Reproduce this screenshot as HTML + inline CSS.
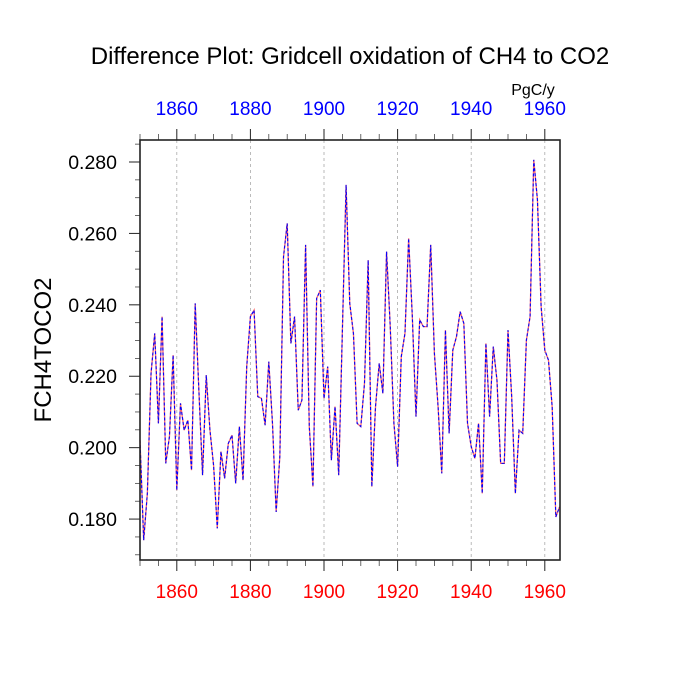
<!DOCTYPE html>
<html><head><meta charset="utf-8"><style>
html,body{margin:0;padding:0;background:#fff;}
svg{display:block;font-family:"Liberation Sans",Arial,sans-serif;}
</style></head><body>
<svg id="chart" width="700" height="700" viewBox="0 0 700 700">
<text x="350" y="64" text-anchor="middle" font-size="24">Difference Plot: Gridcell oxidation of CH4 to CO2</text>
<text x="533" y="95" text-anchor="middle" font-size="16">PgC/y</text>
<text x="0" y="0" transform="translate(51,350) rotate(-90)" text-anchor="middle" font-size="24">FCH4TOCO2</text>
<g id="grid"></g>
<g id="axes"></g>
<g id="series"></g>
<rect x="140" y="140" width="420" height="420" fill="none" stroke="#222" stroke-width="1.6"/>
</svg>
<script>
const startYear = 1850;
const values = [
0.2021,0.1741,0.1872,0.2208,0.2320,0.2068,0.2367,0.1956,0.2031,0.2259,
0.1881,0.2124,0.2049,0.2077,0.1937,0.2404,0.2160,0.1923,0.2203,0.2050,
0.1950,0.1774,0.1989,0.1914,0.2012,0.2035,0.1900,0.2059,0.1909,0.2227,
0.2367,0.2385,0.2143,0.2138,0.2063,0.2241,0.2068,0.1820,0.1975,0.2535,
0.2628,0.2292,0.2367,0.2105,0.2133,0.2568,0.2059,0.1891,0.2418,0.2441,
0.2138,0.2227,0.1965,0.2115,0.1923,0.2330,0.2736,0.2404,0.2320,0.2068,
0.2059,0.2180,0.2525,0.1891,0.2115,0.2236,0.2152,0.2549,0.2339,0.2068,
0.1947,0.2255,0.2320,0.2586,0.2367,0.2087,0.2358,0.2339,0.2339,0.2568,
0.2264,0.2115,0.1928,0.2329,0.2040,0.2273,0.2311,0.2381,0.2348,0.2068,
0.2003,0.1970,0.2068,0.1872,0.2292,0.2087,0.2283,0.2189,0.1956,0.1956,
0.2329,0.2143,0.1872,0.2049,0.2040,0.2301,0.2367,0.2806,0.2694,0.2395,
0.2273,0.2245,0.2115,0.1806,0.1834];
const yTicks = [0.18,0.20,0.22,0.24,0.26,0.28];
const yTickLabels = ["0.180","0.200","0.220","0.240","0.260","0.280"];
const xTicks = [1860,1880,1900,1920,1940,1960];
const xTickLabels = ["1860","1880","1900","1920","1940","1960"];

const NS="http://www.w3.org/2000/svg";
const X0=140,X1=560,Y0=140,Y1=560;
const xMin=1850,xMax=1964.13,yMin=0.16854,yMax=0.28616;
function xs(v){return X0+(v-xMin)/(xMax-xMin)*(X1-X0);}
function ys(v){return Y1-(v-yMin)/(yMax-yMin)*(Y1-Y0);}
function mk(tag,attrs,parent){const e=document.createElementNS(NS,tag);for(const k in attrs)e.setAttribute(k,attrs[k]);parent.appendChild(e);return e;}
const grid=document.getElementById('grid'),axes=document.getElementById('axes'),series=document.getElementById('series');

xTicks.forEach((t,i)=>{
  const x=xs(t);
  const g=mk('line',{x1:x,x2:x,y1:Y0,y2:Y1,stroke:'#aaa','stroke-width':0.8,'stroke-dasharray':'3,3'},grid);
  
  
  const tt=mk('line',{x1:x,x2:x,y1:Y0,y2:Y0-11,stroke:'#222','stroke-width':1},axes);
  
  
  const tb=mk('line',{x1:x,x2:x,y1:Y1,y2:Y1+11,stroke:'#222','stroke-width':1},axes);
  
  
  const lt=mk('text',{x:x,y:115,'text-anchor':'middle','font-size':19,fill:'#0000ff'},axes);
  lt.textContent=xTickLabels[i];
  
  
  const lb=mk('text',{x:x,y:598,'text-anchor':'middle','font-size':19,fill:'#ff0000'},axes);
  lb.textContent=xTickLabels[i];
  
  
});
for(let yr=1850;yr<=1964;yr+=5){
  if(yr%20===0)continue;
  const x=xs(yr);
  const a=mk('line',{x1:x,x2:x,y1:Y0,y2:Y0-6,stroke:'#444','stroke-width':0.8},axes);
  
  
  const b=mk('line',{x1:x,x2:x,y1:Y1,y2:Y1+6,stroke:'#444','stroke-width':0.8},axes);
  
  
}
yTicks.forEach((t,i)=>{
  const y=ys(t);
  const tk=mk('line',{x1:X0,x2:X0-11,y1:y,y2:y,stroke:'#222','stroke-width':1},axes);
  
  
  const l=mk('text',{x:117,y:y+7,'text-anchor':'end','font-size':19.5,fill:'#000'},axes);
  l.textContent=yTickLabels[i];
  
  
});
for(let k=0;k<=24;k++){
  const v=0.17+k*0.005;
  if(v<yMin||v>yMax)continue;
  if(Math.abs((v*100)%2)<1e-6||Math.abs((v*100)%2-2)<1e-6)continue;
  const y=ys(v);
  const m=mk('line',{x1:X0,x2:X0-5,y1:y,y2:y,stroke:'#444','stroke-width':0.8},axes);
  
  
}
const pts=values.map((v,i)=>xs(startYear+i).toFixed(2)+','+ys(v).toFixed(2)).join(' ');
const r=mk('polyline',{points:pts,fill:'none',stroke:'#ff6666','stroke-width':1.3},series);


const b=mk('polyline',{points:pts,fill:'none',stroke:'#0000ff','stroke-width':1.1,'stroke-dasharray':'3,2'},series);


</script>
</body></html>
